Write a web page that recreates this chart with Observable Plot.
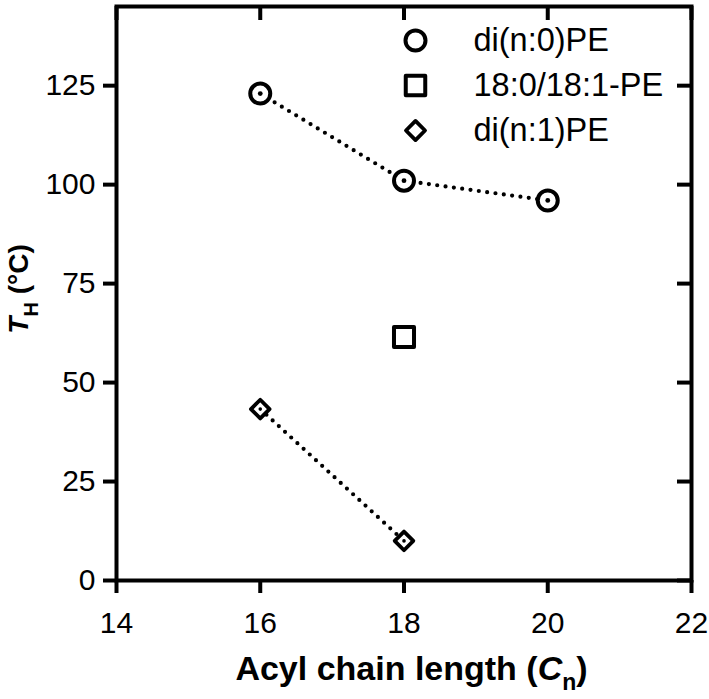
<!DOCTYPE html>
<html><head><meta charset="utf-8">
<script src="https://cdn.jsdelivr.net/npm/d3@7"></script>
<script src="https://cdn.jsdelivr.net/npm/@observablehq/plot@0.6"></script>
<style>body{margin:0;background:#fff}</style>
</head><body><div id="chart"></div>
<script>
const seriesNames = ["di(n:0)PE", "18:0/18:1-PE", "di(n:1)PE"];
const chainDi0 = [16, 18, 20];
const thDi0 = [123, 101, 96];
const chainMixed = [18];
const thMixed = [61.5];
const chainDi1 = [16, 18];
const thDi1 = [43.3, 10];
const xTicks = [14, 16, 18, 20, 22];
const yTicks = [0, 25, 50, 75, 100, 125];
const xDomain = [14, 22];
const yDomain = [0, 145];

const toRows = (name, xs, ys) => xs.map((x, i) => ({series: name, chain: x, th: ys[i]}));
const groups = [
  toRows(seriesNames[0], chainDi0, thDi0),
  toRows(seriesNames[1], chainMixed, thMixed),
  toRows(seriesNames[2], chainDi1, thDi1)
];
const styles = [
  {symbol: "circle", r: 10, strokeWidth: 4, center: 2.4, lr: 10},
  {symbol: "square", r: 11.3, strokeWidth: 4, center: 0, lr: 11},
  {symbol: "diamond2", r: 8.4, strokeWidth: 3.8, center: 1.8, lr: 8.6}
];

const W = 709, H = 699;
const mL = 116, mR = 18, mT = 6, mB = 119;
const innerH = H - mT - mB, innerW = W - mL - mR;

const marks = [];
// dotted connecting lines
[groups[0], groups[2]].forEach(g => marks.push(Plot.line(g, {
  x: "chain", y: "th", stroke: "black", strokeWidth: 4.2,
  strokeDasharray: "0 8.4", strokeLinecap: "round"
})));
// data markers
groups.forEach((g, i) => {
  const s = styles[i];
  marks.push(Plot.dot(g, {x: "chain", y: "th", symbol: s.symbol, r: s.r, stroke: "black",
    strokeWidth: s.strokeWidth, fill: "white", strokeLinejoin: "round"}));
  if (s.center) marks.push(Plot.dot(g, {x: "chain", y: "th", r: s.center, fill: "black"}));
});
// legend
seriesNames.forEach((name, i) => {
  const s = styles[i];
  marks.push(Plot.dot([name], {frameAnchor: "top-left", dx: 299, dy: 34 + i * 45,
    symbol: s.symbol, r: s.lr, stroke: "black", strokeWidth: s.strokeWidth, fill: "white", strokeLinejoin: "round"}));
  marks.push(Plot.text([name], {frameAnchor: "top-left", dx: 357, dy: 34 + i * 45, text: d => d,
    textAnchor: "start", lineAnchor: "middle", fontSize: 32.5, fill: "black"}));
});
// inward mirror ticks (top and right)
marks.push(Plot.tickX(xTicks, {x: d => d, insetBottom: innerH - 14, stroke: "black", strokeWidth: 4}));
marks.push(Plot.tickY(yTicks, {y: d => d, insetLeft: innerW - 14, stroke: "black", strokeWidth: 4}));
// axes
marks.push(Plot.axisX({ticks: xTicks, tickSize: 13, tickPadding: 18, strokeWidth: 4, fontSize: 30, label: null}));
marks.push(Plot.axisY({ticks: yTicks, tickSize: 13, tickPadding: 8, strokeWidth: 4, fontSize: 30, label: null}));
marks.push(Plot.frame({stroke: "black", strokeWidth: 4}));

const chart = Plot.plot({
  width: W, height: H,
  marginLeft: mL, marginRight: mR, marginTop: mT, marginBottom: mB,
  x: {domain: xDomain},
  y: {domain: yDomain},
  style: {fontFamily: "Liberation Sans, Arial, sans-serif", color: "black", background: "white"},
  marks
});

const svg = d3.select(chart);
const xt = svg.append("text")
  .attr("x", mL + innerW / 2 + 8).attr("y", H - 19)
  .attr("text-anchor", "middle")
  .attr("font-family", "Liberation Sans, Arial, sans-serif")
  .attr("font-weight", "bold").attr("font-size", 34).attr("fill", "black");
xt.append("tspan").text("Acyl chain length (");
xt.append("tspan").attr("font-style", "italic").text("C");
xt.append("tspan").attr("font-size", 23).attr("dy", 10).text("n");
xt.append("tspan").attr("dy", -10).text(")");

const yt = svg.append("text")
  .attr("transform", `translate(28,${mT + innerH / 2 - 4}) rotate(-90)`)
  .attr("text-anchor", "middle")
  .attr("font-family", "Liberation Sans, Arial, sans-serif")
  .attr("font-weight", "bold").attr("font-size", 28).attr("fill", "black");
yt.append("tspan").attr("font-style", "italic").text("T");
yt.append("tspan").attr("font-size", 20).attr("dy", 10).text("H");
yt.append("tspan").attr("dy", -10).text(" (°C)");

document.getElementById("chart").appendChild(chart);
</script>
</body></html>
